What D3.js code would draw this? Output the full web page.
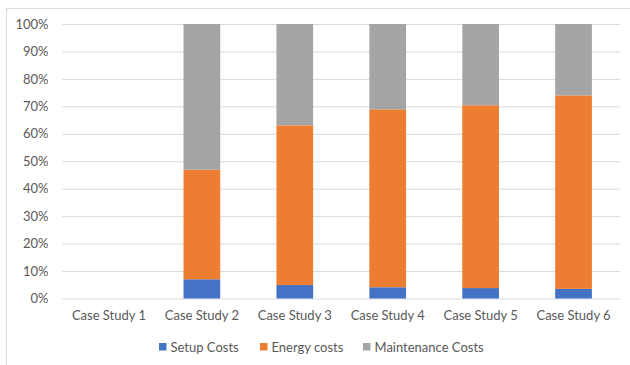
<!DOCTYPE html>
<html>
<head>
<meta charset="utf-8">
<script src="https://cdn.jsdelivr.net/npm/d3@7"></script>
<style>
  body { margin: 0; background: #fff; }
  svg { display: block; font-family: "Lato", "Open Sans", sans-serif; }
</style>
</head>
<body>
<svg id="chart" width="630" height="365"></svg>
<script>
// chart values (percent of total cost)
const categories = ["Case Study 1", "Case Study 2", "Case Study 3", "Case Study 4", "Case Study 5", "Case Study 6"];
const seriesNames = ["Setup Costs", "Energy costs", "Maintenance Costs"];
const setupCosts = [0, 7.0, 4.9, 4.1, 3.8, 3.5];
const energyCosts = [0, 39.9, 58.2, 64.8, 66.6, 70.5];
const maintenanceCosts = [0, 53.1, 36.9, 31.1, 29.6, 26.0];
const yTicks = [0, 10, 20, 30, 40, 50, 60, 70, 80, 90, 100];

const colors = ["#4472C4", "#ED7D31", "#A5A5A5"];

let svg = d3.select("#chart"),
  margin = {top: 24, right: 10, bottom: 66.5, left: 62.5},
  width = 630, height = 365;

// build rows for the stack
let rows = categories.map((c, i) => ({
  cat: c,
  "Setup Costs": setupCosts[i],
  "Energy costs": energyCosts[i],
  "Maintenance Costs": maintenanceCosts[i]
}));

// chart border
svg.append("rect")
    .attr("x", 6.5)
    .attr("y", 8.5)
    .attr("width", 700)
    .attr("height", 400)
    .attr("fill", "none")
    .attr("stroke", "#D9D9D9");

var x = d3.scaleBand()
    .domain(categories)
    .range([margin.left, width - margin.right])
    .paddingInner(0.605)
    .paddingOuter(0.3025);

var y = d3.scaleLinear()
    .domain([0, 100])
    .range([height - margin.bottom, margin.top]);

// gridlines + y labels
var gY = svg.append("g")
    .attr("transform", "translate(" + margin.left + ",0)")
    .call(d3.axisLeft(y).tickValues(yTicks)
      .tickSize(-(width - margin.right - margin.left))
      .tickFormat(d => d + "%"));
gY.select(".domain").remove();
gY.selectAll(".tick line").attr("stroke", "#D9D9D9").attr("stroke-width", 1);
gY.selectAll(".tick text")
    .attr("x", -14)
    .attr("fill", "#595959")
    .attr("font-size", 13)
    .style("font-family", "Lato, sans-serif");

// stacked bars
var stack = d3.stack().keys(seriesNames)(rows);

svg.append("g").selectAll("g")
    .data(stack)
    .enter()
    .append("g")
      .attr("fill", (d, i) => colors[i])
    .selectAll("rect")
    .data(d => d)
    .enter()
    .append("rect")
      .attr("x", d => x(d.data.cat))
      .attr("y", d => y(d[1]))
      .attr("width", x.bandwidth())
      .attr("height", d => y(d[0]) - y(d[1]));

// x labels
var gX = svg.append("g")
    .attr("transform", "translate(0," + (height - margin.bottom) + ")")
    .call(d3.axisBottom(x).tickSize(0).tickPadding(12));
gX.select(".domain").remove();
gX.selectAll(".tick text")
    .attr("fill", "#595959")
    .attr("font-size", 13)
    .style("font-family", "Lato, sans-serif");

// legend
var legendX = [159, 260, 363];
var legend = svg.append("g").selectAll("g")
    .data(seriesNames)
    .enter()
    .append("g")
      .attr("transform", (d, i) => "translate(" + legendX[i] + ",343)");

legend.append("rect")
    .attr("width", 7.5)
    .attr("height", 7.5)
    .attr("fill", (d, i) => colors[i]);

legend.append("text")
    .attr("x", 11.5)
    .attr("y", 4)
    .attr("dy", "0.35em")
    .attr("fill", "#595959")
    .attr("font-size", 13)
    .text(d => d);
</script>
</body>
</html>
